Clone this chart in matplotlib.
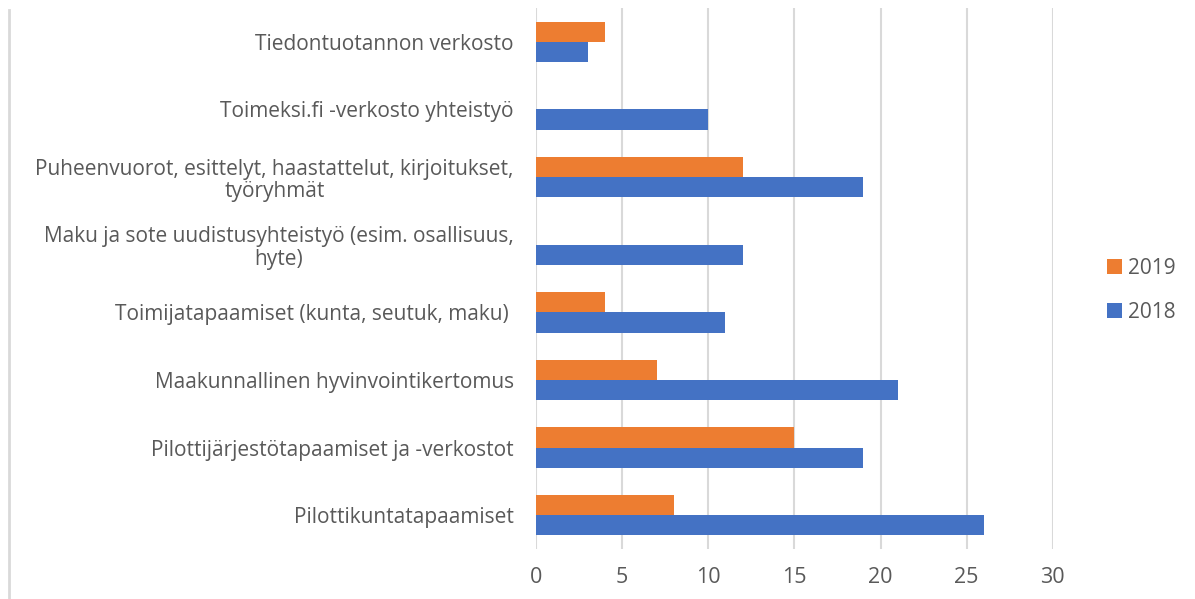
import matplotlib.pyplot as plt
import matplotlib.lines as mlines
import numpy as np

plt.rcParams['font.family'] = ['Open Sans', 'DejaVu Sans']

categories = [
    'Pilottikuntatapaamiset',
    'Pilottijärjestötapaamiset ja -verkostot',
    'Maakunnallinen hyvinvointikertomus',
    'Toimijatapaamiset (kunta, seutuk, maku) ',
    'Maku ja sote uudistusyhteistyö (esim. osallisuus,\nhyte)',
    'Puheenvuorot, esittelyt, haastattelut, kirjoitukset,\ntyöryhmät',
    'Toimeksi.fi -verkosto yhteistyö',
    'Tiedontuotannon verkosto',
]
vals_2018 = [26, 19, 21, 11, 12, 19, 10, 3]
vals_2019 = [8, 15, 7, 4, 0, 12, 0, 4]
x_ticks = [0, 5, 10, 15, 20, 25, 30]

blue = '#4472C4'
orange = '#ED7D31'
text_col = '#595959'
grid_col = '#D9D9D9'

fig = plt.figure(figsize=(11.95, 5.99), dpi=100)
ax = fig.add_axes([0.4485, 0.0835, 0.4325, 0.9031])

y = np.arange(len(categories))
h = 0.3
ax.barh(y - h / 2, vals_2018, height=h, color=blue, label='2018', zorder=3)
ax.barh(y + h / 2, vals_2019, height=h, color=orange, label='2019', zorder=3)

ax.set_xlim(0, 30)
ax.set_ylim(-0.5, len(categories) - 0.5)
ax.set_xticks(x_ticks)
ax.set_yticks(y)
ax.set_yticklabels(categories, fontsize=15, color=text_col,
                   multialignment='center', linespacing=1.1)
ax.tick_params(axis='x', length=0, pad=13, labelsize=15.5, labelcolor=text_col)
ax.tick_params(axis='y', length=0, pad=16)
ax.xaxis.grid(True, color=grid_col, lw=1.5, zorder=0)
for s in ax.spines.values():
    s.set_visible(False)

handles, labels = ax.get_legend_handles_labels()
leg = fig.legend(handles[::-1], labels[::-1], loc='center left',
                 bbox_to_anchor=(0.911, 0.515), frameon=False, fontsize=15,
                 handlelength=0.7, handleheight=0.7, handletextpad=0.3,
                 labelspacing=1.1)
for t in leg.get_texts():
    t.set_color(text_col)

fig.add_artist(mlines.Line2D([0.0075, 0.0075], [0, 0.984],
                             transform=fig.transFigure, color=grid_col, lw=2))

fig.savefig('out.png', dpi=100)
